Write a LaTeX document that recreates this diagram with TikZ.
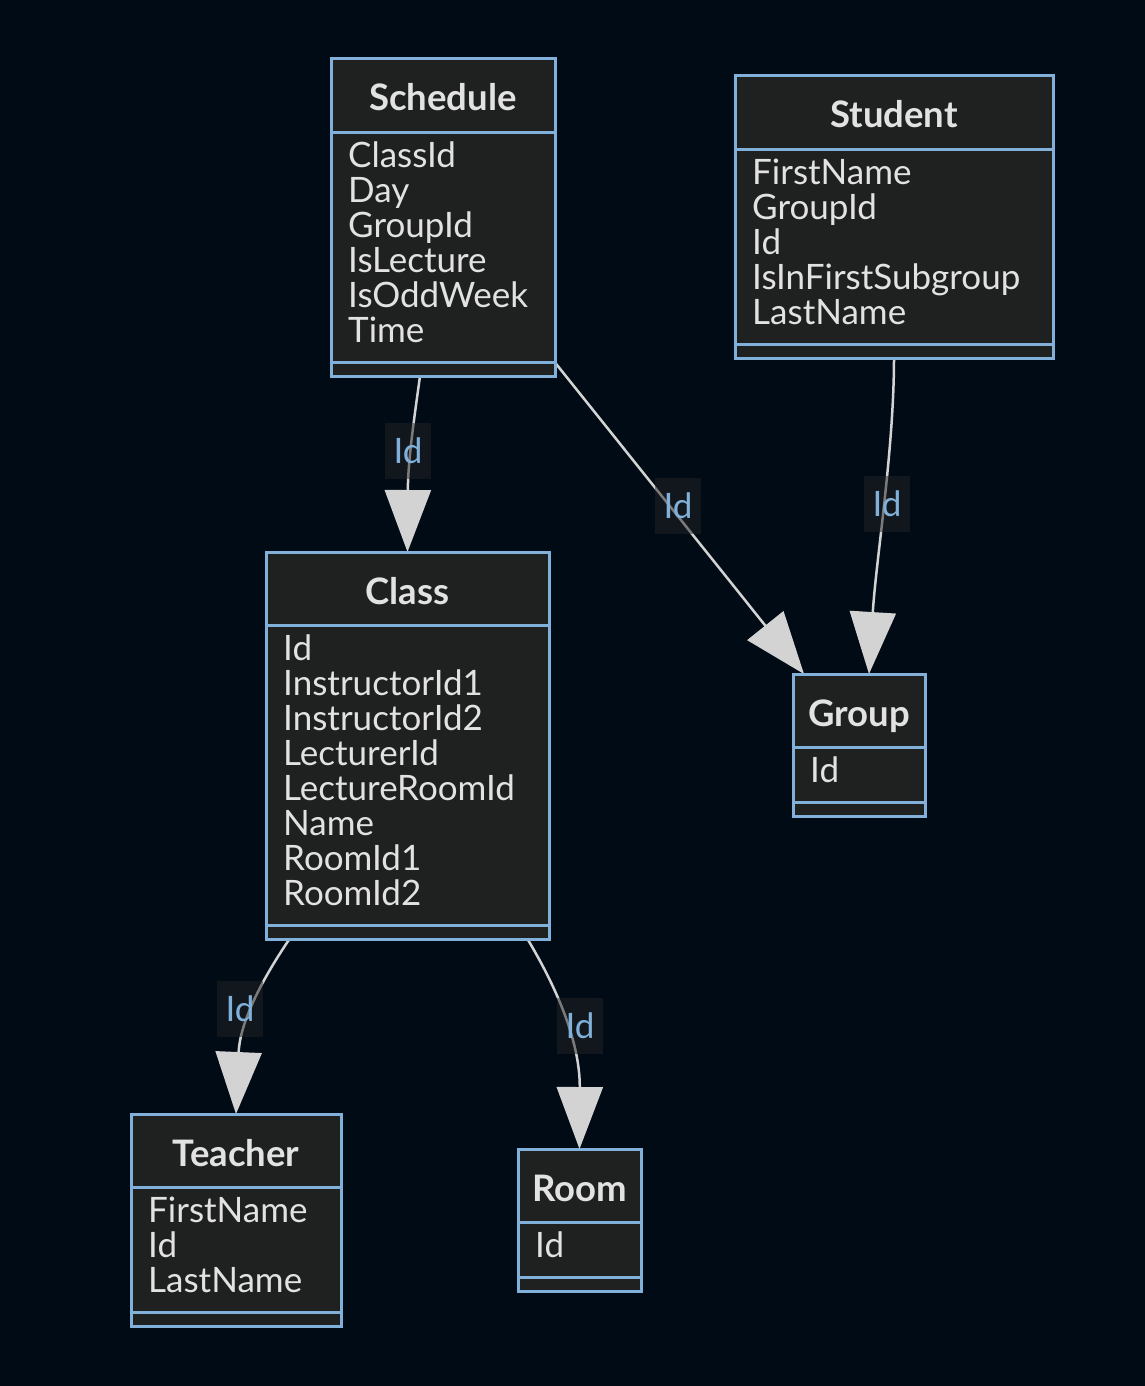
\documentclass[tikz,border=0pt]{standalone}
\usepackage{fontspec}
\setmainfont{Lato}
\usetikzlibrary{arrows.meta}
\definecolor{bgc}{HTML}{000B15}
\definecolor{boxfill}{HTML}{1F2020}
\definecolor{bord}{HTML}{81B1DB}
\definecolor{txtc}{HTML}{E2E2E2}
\definecolor{edgec}{HTML}{D3D3D3}
\definecolor{lblbg}{HTML}{232323}
\definecolor{lbltxt}{HTML}{81B1DB}
\tikzset{
  boxst/.style={draw=bord, fill=boxfill, line width=3pt, inner sep=0pt, outer sep=0pt, anchor=north west},
  divst/.style={draw=bord, line width=3pt},
  titlest/.style={text=txtc, inner sep=0pt, font=\fontsize{36.5}{38}\selectfont\bfseries},
  fieldst/.style={text=txtc, inner sep=0pt, font=\fontsize{35}{35}\selectfont},
  edgest/.style={draw=edgec, line width=2.5pt, -{Triangle[length=62pt,width=46pt]}},
  lblst/.style={fill=lblbg, fill opacity=0.5, text opacity=1, text=lbltxt, inner sep=0pt,
    minimum width=46pt, minimum height=56pt, font=\fontsize{35}{35}\selectfont}
}
% #1 name, #2 left, #3 right, #4 top, #5 number of fields, #6 title, #7 fields
\newcommand\classbox[7]{%
  \node[boxst, minimum width={(#3-#2)*1pt}, minimum height={(142+35*(#5-1))*1pt}] (#1) at (#2,#4) {};
  \draw[divst] ([yshift=-73.5pt]#1.north west) -- ([yshift=-73.5pt]#1.north east);
  \draw[divst] ([yshift=13.5pt]#1.south west) -- ([yshift=13.5pt]#1.south east);
  \node[titlest, anchor=base] (#1-t) at ([yshift=-52pt]#1.north) {#6};
  \foreach \f [count=\i] in {#7} {
    \node[fieldst, anchor=base west] (#1-f\i) at ([xshift=17pt, yshift={-(108+35*(\i-1))*1pt}]#1.north west) {\f};
  }
}
\begin{document}
\begin{tikzpicture}[x=1pt,y=-1pt]
\fill[bgc] (0,0) rectangle (1145,1386);
\useasboundingbox (0,0) rectangle (1145,1386);

% boxes as named nodes (placed first, invisible, so edges can refer to them)
\begin{scope}[opacity=0]
\classbox{sched}{331}{555}{59}{6}{Schedule}{ClassId,Day,GroupId,IsLecture,IsOddWeek,Time}
\classbox{stud}{735}{1053}{76}{5}{Student}{FirstName,GroupId,Id,IsInFirstSubgroup,LastName}
\classbox{cls}{266}{549}{552}{8}{Class}{Id,InstructorId1,InstructorId2,LecturerId,LectureRoomId,Name,RoomId1,RoomId2}
\classbox{grp}{793}{925}{674}{1}{Group}{Id}
\classbox{teach}{131}{341}{1114}{3}{Teacher}{FirstName,Id,LastName}
\classbox{room}{518}{641}{1149}{1}{Room}{Id}
\end{scope}

% edges
\draw[edgest] ([xshift=-23pt]sched.south) .. controls (414,420) and (408,460) .. (cls.north);
\draw[edgest] ([yshift=13.5pt]sched.south east) -- ([xshift=11pt]grp.north west);
\draw[edgest] (stud.south) .. controls (894,450) and (876,560) .. ([xshift=10pt]grp.north);
\draw[edgest] ([xshift=-118pt]cls.south) .. controls (265,975) and (240,1020) .. (teach.north);
\draw[edgest] ([xshift=120pt]cls.south) .. controls (555,985) and (580,1040) .. (room.north);

% edge labels
\node[lblst] (l1) at (408,451) {Id};
\node[lblst] (l2) at (678,506) {Id};
\node[lblst] (l3) at (887,504) {Id};
\node[lblst] (l4) at (240,1009) {Id};
\node[lblst] (l5) at (580,1026) {Id};

% visible boxes
\classbox{sched}{331}{555}{59}{6}{Schedule}{ClassId,Day,GroupId,IsLecture,IsOddWeek,Time}
\classbox{stud}{735}{1053}{76}{5}{Student}{FirstName,GroupId,Id,IsInFirstSubgroup,LastName}
\classbox{cls}{266}{549}{552}{8}{Class}{Id,InstructorId1,InstructorId2,LecturerId,LectureRoomId,Name,RoomId1,RoomId2}
\classbox{grp}{793}{925}{674}{1}{Group}{Id}
\classbox{teach}{131}{341}{1114}{3}{Teacher}{FirstName,Id,LastName}
\classbox{room}{518}{641}{1149}{1}{Room}{Id}
\end{tikzpicture}
\end{document}
